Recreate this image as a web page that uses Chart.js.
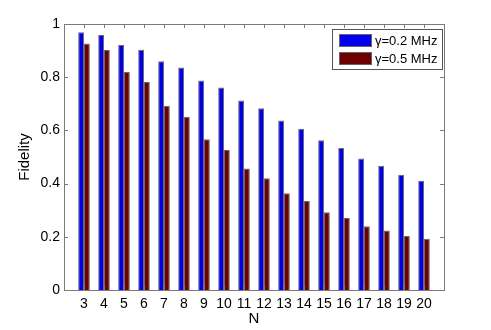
<!DOCTYPE html>
<html>
<head>
<meta charset="utf-8">
<script src="https://cdn.jsdelivr.net/npm/chart.js@4/dist/chart.umd.min.js"></script>
<style>
  html, body { margin: 0; padding: 0; background: #fff; }
  #wrap { width: 491px; height: 330px; }
</style>
</head>
<body>
<div id="wrap"><canvas id="fidelityChart" width="491" height="330"></canvas></div>
<script>
// N from 3 to 20, axis runs from 2 to 21 like the original
const nValues = ["2", "3", "4", "5", "6", "7", "8", "9", "10", "11", "12", "13", "14", "15", "16", "17", "18", "19", "20", "21"];
const gamma02 = [null, 0.969, 0.959, 0.921, 0.903, 0.860, 0.836, 0.788, 0.761, 0.712, 0.683, 0.637, 0.606, 0.563, 0.534, 0.494, 0.467, 0.433, 0.411, null];
const gamma05 = [null, 0.927, 0.902, 0.820, 0.782, 0.693, 0.651, 0.567, 0.526, 0.457, 0.420, 0.364, 0.335, 0.292, 0.271, 0.240, 0.224, 0.203, 0.193, null];
const yTicks = [0, 0.2, 0.4, 0.6, 0.8, 1];
const seriesLabels = ["γ=0.2 MHz", "γ=0.5 MHz"];

const fontFamily = "'Liberation Sans', Arial, Helvetica, sans-serif";
const axisColor = "#7a7a7a";

// box round the axes with inward ticks on all four sides
const boxTicks = {
  id: "boxTicks",
  afterDatasetsDraw(chart) {
    const { ctx, chartArea: a, scales } = chart;
    ctx.save();
    ctx.strokeStyle = axisColor;
    ctx.lineWidth = 1;
    ctx.beginPath();
    yTicks.forEach((v) => {
      const y = Math.round(scales.y.getPixelForValue(v)) + 0.5;
      ctx.moveTo(a.left, y); ctx.lineTo(a.left + 4, y);
      ctx.moveTo(a.right, y); ctx.lineTo(a.right - 4, y);
    });
    nValues.slice(1, -1).forEach((n, i) => {
      const x = Math.round(scales.x.getPixelForValue(i + 1)) + 0.5;
      ctx.moveTo(x, a.bottom); ctx.lineTo(x, a.bottom - 4);
      ctx.moveTo(x, a.top); ctx.lineTo(x, a.top + 4);
    });
    ctx.stroke();
    ctx.strokeRect(Math.round(a.left) + 0.5, Math.round(a.top) + 0.5, Math.round(a.right - a.left), Math.round(a.bottom - a.top));
    ctx.restore();
  },
};

// MATLAB style legend box in the top right corner
const boxLegend = {
  id: "boxLegend",
  afterDraw(chart) {
    const { ctx } = chart;
    const x = 332, y = 29, w = 110, h = 40;
    ctx.save();
    ctx.fillStyle = "#fff";
    ctx.fillRect(x, y, w, h);
    ctx.strokeStyle = "#555";
    ctx.lineWidth = 1;
    ctx.strokeRect(x + 0.5, y + 0.5, w, h);
    ctx.font = "13px " + fontFamily;
    ctx.textBaseline = "middle";
    chart.data.datasets.forEach((ds, i) => {
      const sy = y + 5 + i * 18;
      ctx.fillStyle = ds.backgroundColor;
      ctx.fillRect(x + 7, sy, 33, 13);
      ctx.strokeStyle = "#666";
      ctx.strokeRect(x + 7.5, sy + 0.5, 32, 12);
      ctx.fillStyle = "#000";
      ctx.fillText(ds.label, x + 43, sy + 7);
    });
    ctx.restore();
  },
};

const ctx = document.getElementById("fidelityChart").getContext("2d");
new Chart(ctx, {
  type: "bar",
  data: {
    labels: nValues,
    datasets: [
      {
        label: seriesLabels[0],
        data: gamma02,
        backgroundColor: "#0000ee",
        borderColor: "#6a6a6a",
        borderWidth: 1,
        categoryPercentage: 0.58,
        barPercentage: 1,
      },
      {
        label: seriesLabels[1],
        data: gamma05,
        backgroundColor: "#6e0000",
        borderColor: "#6a6a6a",
        borderWidth: 1,
        categoryPercentage: 0.58,
        barPercentage: 1,
      },
    ],
  },
  options: {
    responsive: false,
    animation: false,
    layout: { padding: { left: 0, top: 24, right: 47, bottom: 0 } },
    plugins: {
      legend: { display: false },
      tooltip: { enabled: false },
    },
    scales: {
      x: {
        offset: false,
        grid: { display: false, drawTicks: false },
        border: { display: false },
        ticks: {
          color: "#000",
          font: { family: fontFamily, size: 14 },
          padding: 6,
          maxRotation: 0,
          autoSkip: false,
          callback: (val, i) => (i === 0 || i === nValues.length - 1 ? "" : nValues[i]),
        },
        title: {
          display: true,
          text: "N",
          color: "#000",
          font: { family: fontFamily, size: 15 },
          padding: { top: 0, bottom: 2 },
        },
        afterFit: (scale) => { scale.height = 40; },
      },
      y: {
        min: 0,
        max: 1,
        grid: { display: false, drawTicks: false },
        border: { display: false },
        afterBuildTicks: (scale) => { scale.ticks = yTicks.map((v) => ({ value: v })); },
        ticks: {
          color: "#000",
          font: { family: fontFamily, size: 14 },
          padding: 4,
          callback: (v) => String(Math.round(v * 10) / 10),
        },
        title: {
          display: true,
          text: "Fidelity",
          color: "#000",
          font: { family: fontFamily, size: 15 },
          padding: { top: 16, bottom: 0 },
        },
        afterFit: (scale) => { scale.width = 64; },
      },
    },
  },
  plugins: [boxTicks, boxLegend],
});
</script>
</body>
</html>
